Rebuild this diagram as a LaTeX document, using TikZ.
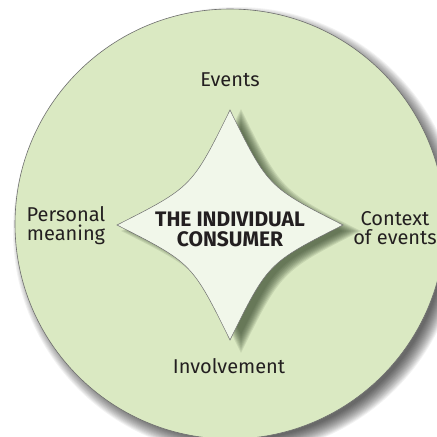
\documentclass[tikz,border=0pt]{standalone}
\usepackage{fontspec}
\setmainfont{Fira Sans}
\definecolor{ringfill}{RGB}{218,233,194}
\definecolor{starfill}{RGB}{241,247,234}
\definecolor{edgegray}{RGB}{110,110,110}
\definecolor{ink}{RGB}{35,31,32}
\definecolor{starshade}{RGB}{55,72,45}
\begin{document}
\begin{tikzpicture}[x=1pt,y=-1pt,
  lbl/.style={text=ink,font=\fontsize{20}{19}\selectfont,align=center,inner sep=0pt},
  centertext/.style={text=ink,font=\bfseries\fontsize{21}{20}\selectfont,align=center,inner sep=0pt},
  starshape/.style={insert path={(0,-115) .. controls (-38,-38) and (-38,-38) .. (-113,0)
    .. controls (-38,38) and (-38,38) .. (0,115)
    .. controls (38,38) and (38,38) .. (113,0)
    .. controls (38,-38) and (38,-38) .. cycle}}]
\useasboundingbox (0,0) rectangle (437,437);
\clip (0,0) rectangle (437,437);
\fill[white] (0,0) rectangle (437,437);
% circle shadow
\foreach \r in {209,210,...,224}{
  \fill[black, opacity=0.05] (237,231) circle[radius=\r];
}
\path[fill=ringfill, draw=edgegray, line width=0.6pt] (230,224) circle[radius=215];
% star shadow
\foreach \s in {0.90,0.92,...,1.08}{
  \begin{scope}[shift={(241,231)}, scale=\s]
    \fill[starshade, opacity=0.12, starshape];
  \end{scope}
}
\begin{scope}[shift={(230,225)}]
  \path[fill=starfill, draw=edgegray, line width=0.5pt, starshape];
\end{scope}
\node[lbl] (events) at (230,80) {Events};
\node[lbl] (involvement) at (229,366) {Involvement};
\node[lbl] (personal) at (66,226) {Personal\\meaning};
\node[lbl] (context) at (395,228) {Context\\of events};
\node[centertext] (consumer) at (230,229) {THE INDIVIDUAL\\CONSUMER};
\end{tikzpicture}
\end{document}
